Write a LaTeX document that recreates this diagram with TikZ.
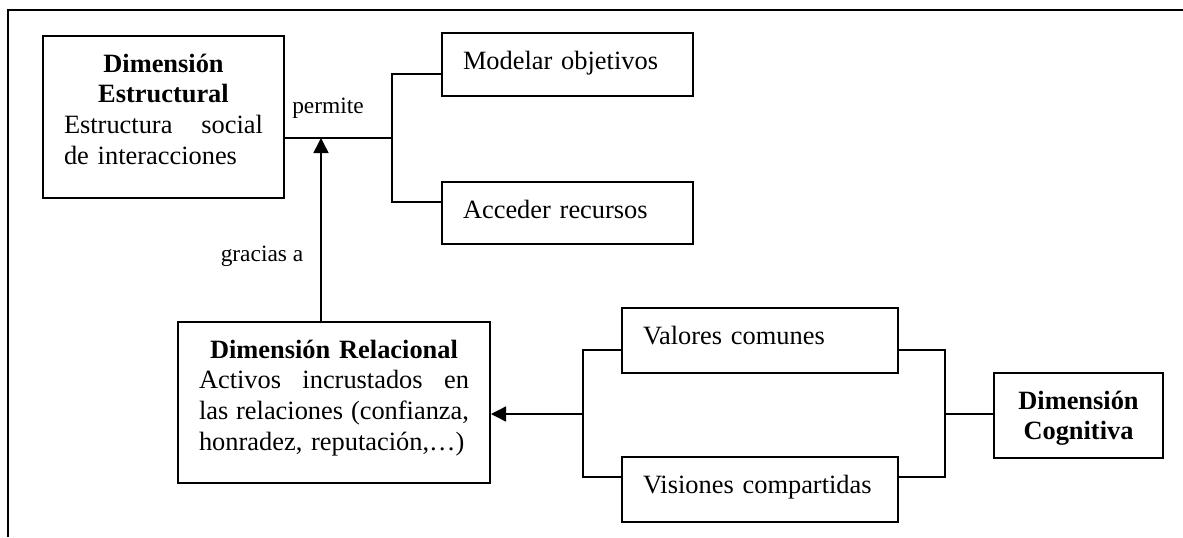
\documentclass[tikz,border=0pt]{standalone}
\usepackage{fontspec}
\setmainfont{Liberation Serif}
\usetikzlibrary{arrows.meta}
\tikzset{
  box/.style={draw, line width=1pt, rectangle, anchor=north west,
    inner xsep=10.5pt, inner ysep=0pt, text height=18pt,
    font=\fontsize{13.2pt}{15.35pt}\selectfont},
  conn/.style={line width=0.75pt},
  arr/.style={-{Triangle[length=7.5pt,width=7.5pt]}},
  lbl/.style={anchor=base, inner sep=0pt, font=\fontsize{11.7pt}{14pt}\selectfont},
}
\begin{document}
\begin{tikzpicture}[x=0.5pt,y=-0.5pt]
\useasboundingbox (0,0) rectangle (1183,537);
% outer frame
\draw[line width=1pt] (8,537) -- (8,10) -- (1183,10);

% boxes
\node[box, text width=99.5pt, text depth=63pt, align=center] (est) at (42,35)
  {\textbf{Dimensión}\\\textbf{Estructural}\\Estructura\hfill social\\de interacciones\hfill\null};
\node[box, text width=104.5pt, text depth=13.5pt, align=left] (mod) at (441,32) {Modelar objetivos};
\node[box, text width=104.5pt, text depth=13pt, align=left] (acc) at (441,181) {Acceder recursos};
\node[box, text width=135pt, text depth=62.5pt, align=center] (rel) at (177,321)
  {\textbf{Dimensión Relacional}\\Activos\hfill incrustados\hfill en\\las\hfill relaciones\hfill (confianza,\\honradez, reputación,…)\hfill\null};
\node[box, text width=117pt, text depth=14.5pt, align=left] (val) at (621,307) {Valores comunes};
\node[box, text width=117pt, text depth=14.5pt, align=left] (vis) at (621,456) {Visiones compartidas};
\node[box, text width=63.5pt, text depth=24.5pt, align=center] (cog) at (993,372)
  {\textbf{Dimensión}\\\textbf{Cognitiva}};

% labels
\node[lbl] (lperm) at (328,113) {permite};
\node[lbl] (lgrac) at (262,261) {gracias a};

% upper connectors
\coordinate (b1) at (392,138);
\coordinate (bt) at (392,74);
\coordinate (bb) at (392,202);
\draw[conn] (b1 -| est.east) -- (b1);
\draw[conn] (bt -| mod.west) -- (bt) -- (bb) -- (bb -| acc.west);
\coordinate (a1) at (321,138);
\draw[conn,arr] (a1 |- rel.north) -- (a1);

% lower connectors
\coordinate (lt) at (583,350);
\coordinate (lb) at (583,477);
\coordinate (lm) at (583,414);
\draw[conn] (lt -| val.west) -- (lt) -- (lb) -- (lb -| vis.west);
\draw[conn,arr] (lm) -- (lm -| rel.east);
\coordinate (rt) at (945,350);
\coordinate (rb) at (945,477);
\coordinate (rm) at (945,414);
\draw[conn] (rt -| val.east) -- (rt) -- (rb) -- (rb -| vis.east);
\draw[conn] (rm) -- (rm -| cog.west);
\end{tikzpicture}
\end{document}
